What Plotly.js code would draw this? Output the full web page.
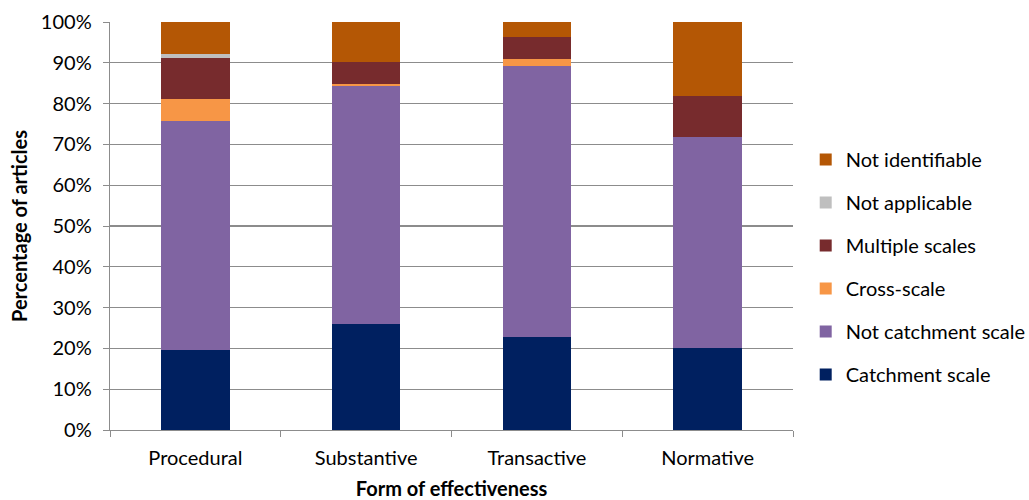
<!DOCTYPE html>
<html>
<head>
<meta charset="utf-8">
<script src="https://cdn.plot.ly/plotly-3.0.1.min.js"></script>
<style>html,body{margin:0;padding:0;background:#fff;}#chart{width:1029px;height:500px;}</style>
</head>
<body>
<div id="chart"></div>
<script>
const categories = ["Procedural", "Substantive", "Transactive", "Normative"];
const seriesNames = ["Catchment scale", "Not catchment scale", "Cross-scale", "Multiple scales", "Not applicable", "Not identifiable"];
const catchmentScale    = [19.5, 25.9, 22.9, 20.2];
const notCatchmentScale = [56.2, 58.3, 66.2, 51.5];
const crossScale        = [5.4, 0.7, 1.8, 0.0];
const multipleScales    = [10.0, 5.2, 5.5, 10.1];
const notApplicable     = [1.1, 0.0, 0.0, 0.0];
const notIdentifiable   = [7.8, 9.9, 3.6, 18.2];
const yTickVals = [0, 10, 20, 30, 40, 50, 60, 70, 80, 90, 100];
const yTickText = ["0%", "10%", "20%", "30%", "40%", "50%", "60%", "70%", "80%", "90%", "100%"];

const seriesValues = [catchmentScale, notCatchmentScale, crossScale, multipleScales, notApplicable, notIdentifiable];
const colors = ["#002060", "#8064A2", "#F79646", "#772B2D", "#BFBFBF", "#B45705"];

const data = seriesNames.map((name, i) => ({
  type: "bar",
  name: name,
  x: categories,
  y: seriesValues[i],
  legendgroup: "g" + i,
  legendrank: 10 - i,
  marker: {color: colors[i], line: {width: 0}},
  hoverinfo: "x+y+name"
}));

const font = "Lato, 'Open Sans', 'DejaVu Sans', sans-serif";
const layout = {
  width: 1029, height: 500,
  margin: {l: 110, r: 236, t: 22, b: 70},
  paper_bgcolor: "#fff", plot_bgcolor: "#fff",
  barmode: "stack",
  bargap: 0.6,
  font: {family: font, size: 20, color: "#000"},
  showlegend: true,
  legend: {
    xref: "container", yref: "container",
    x: 0.783, xanchor: "left", y: 0.47, yanchor: "middle",
    traceorder: "grouped",
    tracegroupgap: 14,
    font: {family: font, size: 20, color: "#000"},
    itemwidth: 30
  },
  xaxis: {
    type: "category",
    showline: true, linecolor: "#8c8c8c", linewidth: 1.3,
    ticks: "outside", tickson: "boundaries", ticklen: 6, tickcolor: "#8c8c8c",
    ticklabelstandoff: 10,
    tickfont: {family: font, size: 20, color: "#000"},
    title: {text: "<b>Form of effectiveness</b>", font: {family: font, size: 20, color: "#000"}, standoff: 18},
    showgrid: false, zeroline: false
  },
  yaxis: {
    range: [0, 100],
    tickmode: "array",
    tickvals: yTickVals,
    ticktext: yTickText,
    showline: true, linecolor: "#8c8c8c", linewidth: 1.3,
    ticks: "outside", ticklen: 6, tickcolor: "#8c8c8c",
    ticklabelstandoff: 7,
    showgrid: true, gridcolor: "#8c8c8c", gridwidth: 1.3,
    zeroline: false,
    tickfont: {family: font, size: 20, color: "#000"},
    title: {text: "<b>Percentage of articles</b>", font: {family: font, size: 20, color: "#000"}, standoff: 8}
  }
};

Plotly.newPlot("chart", data, layout, {displayModeBar: false, staticPlot: true});
</script>
</body>
</html>
